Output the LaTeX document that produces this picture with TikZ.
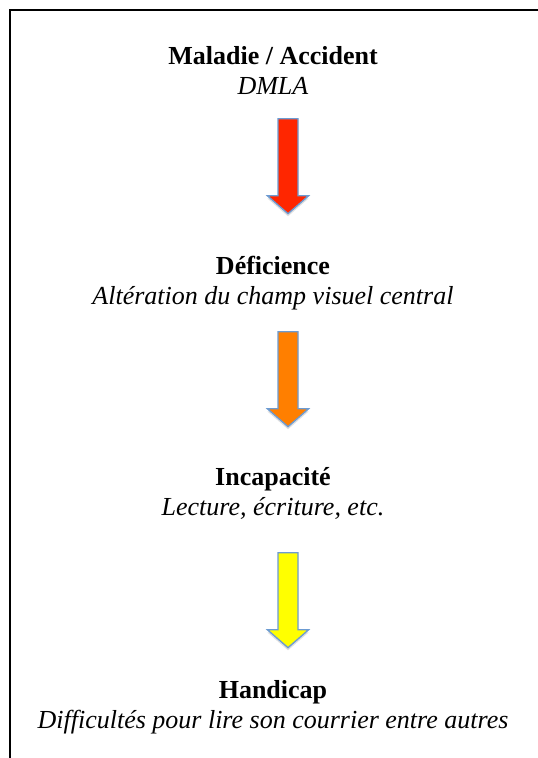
\documentclass[tikz,border=0pt]{standalone}
\usepackage{fontspec}
\setmainfont{Liberation Serif}
\usetikzlibrary{shapes.arrows, shadows}
\definecolor{arrowred}{HTML}{FF2600}
\definecolor{arroworange}{HTML}{FF7F00}
\definecolor{arrowyellow}{HTML}{FFFF00}
\definecolor{arrowedge}{HTML}{6C9BD2}
\tikzset{stage/.style={align=center,anchor=base,inner sep=0pt,font=\fontsize{19.5}{22.5}\selectfont},
         bigarrow/.style={single arrow,draw=arrowedge,line width=1pt,shape border rotate=270,
                          minimum height=71.25pt,minimum width=30.75pt,single arrow head extend=7.9pt,
                          single arrow tip angle=98,inner sep=7pt,anchor=tail,
                          drop shadow={shadow xshift=0pt,shadow yshift=-2pt,opacity=0.25}}}

\begin{document}
\begin{tikzpicture}[x=0.75pt,y=-0.75pt]
        \useasboundingbox (0,0) rectangle (537,758);
        \draw[line width=1.5pt](540,10)--(10,10)--(10,760);
        \node[stage](maladie)at(273,94){\textbf{Maladie / Accident}\\\textit{DMLA}};
        \node[stage](deficience)at(273,304){\textbf{Déficience}\\\textit{Altération du champ visuel central}};
        \node[stage](incapacite)at(273,515){\textbf{Incapacité}\\\textit{Lecture, écriture, etc.}};
        \node[stage](handicap)at(273,728){\textbf{Handicap}\\\textit{Difficultés pour lire son courrier entre autres}};
        \node[bigarrow,fill=arrowred](a1)at(288,118){};
        \node[bigarrow,fill=arroworange](a2)at(288,331){};
        \node[bigarrow,fill=arrowyellow](a3)at(288,552){};
    \end{tikzpicture}
\end{document}
